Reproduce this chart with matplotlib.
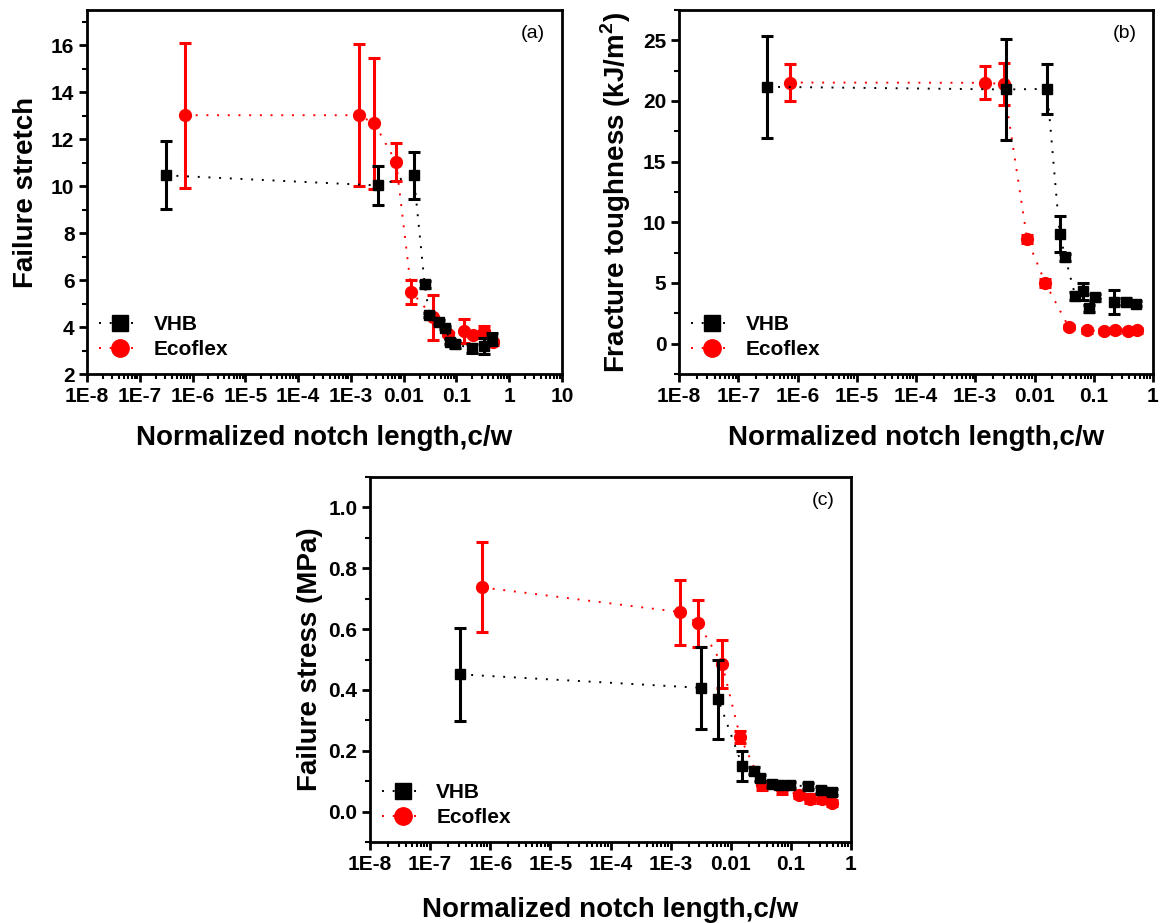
import numpy as np
import matplotlib
matplotlib.use("Agg")
import matplotlib.pyplot as plt
from matplotlib.lines import Line2D
from matplotlib.ticker import FixedLocator, LogLocator, MultipleLocator, NullFormatter, FormatStrFormatter

plt.rcParams['font.family'] = ['Liberation Sans', 'DejaVu Sans']
plt.rcParams['font.weight'] = 'bold'
plt.rcParams['mathtext.fontset'] = 'custom'
plt.rcParams['mathtext.rm'] = 'Liberation Sans:bold'
plt.rcParams['mathtext.bf'] = 'Liberation Sans:bold'

# (a) failure stretch
a_vhb_x = [3.1e-7, 3.2e-3, 0.0155, 0.025, 0.0306, 0.046, 0.062, 0.076, 0.095, 0.20, 0.327, 0.48]
a_vhb_y = [10.46, 10.03, 10.46, 5.82, 4.51, 4.22, 3.98, 3.37, 3.27, 3.09, 3.20, 3.49]
a_vhb_e = [1.45, 0.83, 1.0, 0.15, 0.08, 0.08, 0.08, 0.1, 0.15, 0.2, 0.35, 0.25]
a_eco_x = [7.2e-7, 1.4e-3, 2.8e-3, 7.2e-3, 0.014, 0.0365, 0.068, 0.14, 0.21, 0.34, 0.50]
a_eco_y = [13.02, 13.02, 12.67, 11.02, 5.51, 4.41, 3.70, 3.84, 3.67, 3.84, 3.35]
a_eco_e = [3.08, 3.03, 2.8, 0.8, 0.51, 0.95, 0.1, 0.5, 0.1, 0.2, 0.1]

# (b) fracture toughness
b_vhb_x = [3.1e-7, 3.3e-3, 0.0163, 0.0266, 0.033, 0.0489, 0.066, 0.082, 0.106, 0.217, 0.356, 0.525]
b_vhb_y = [21.17, 20.95, 21.0, 9.06, 7.12, 3.92, 4.33, 2.90, 3.83, 3.42, 3.45, 3.31]
b_vhb_e = [4.2, 4.2, 2.05, 1.5, 0.3, 0.3, 0.7, 0.3, 0.3, 1.0, 0.3, 0.2]
b_eco_x = [7.5e-7, 1.48e-3, 3.0e-3, 7.5e-3, 0.0152, 0.0378, 0.077, 0.151, 0.23, 0.374, 0.537]
b_eco_y = [21.52, 21.5, 21.39, 8.63, 5.01, 1.37, 1.10, 1.04, 1.10, 1.04, 1.12]
b_eco_e = [1.56, 1.35, 1.74, 0.3, 0.3, 0.2, 0.2, 0.2, 0.2, 0.2, 0.2]

# (c) failure stress
c_vhb_x = [3.2e-7, 3.14e-3, 6.2e-3, 0.0156, 0.0246, 0.031, 0.048, 0.064, 0.097, 0.195, 0.317, 0.484]
c_vhb_y = [0.451, 0.407, 0.369, 0.150, 0.135, 0.110, 0.091, 0.089, 0.087, 0.083, 0.070, 0.064]
c_vhb_e = [0.153, 0.134, 0.13, 0.05, 0.01, 0.01, 0.01, 0.01, 0.01, 0.01, 0.01, 0.01]
c_eco_x = [7.3e-7, 1.43e-3, 2.9e-3, 7.2e-3, 0.0143, 0.0337, 0.071, 0.138, 0.21, 0.33, 0.48]
c_eco_y = [0.737, 0.656, 0.619, 0.485, 0.246, 0.086, 0.074, 0.054, 0.043, 0.043, 0.029]
c_eco_e = [0.148, 0.107, 0.078, 0.078, 0.02, 0.015, 0.015, 0.01, 0.015, 0.015, 0.01]

xtick_vals = [1e-8, 1e-7, 1e-6, 1e-5, 1e-4, 1e-3, 1e-2, 1e-1, 1, 10]
xtick_labels = ["1E-8", "1E-7", "1E-6", "1E-5", "1E-4", "1E-3", "0.01", "0.1", "1", "10"]

fig = plt.figure(figsize=(11.61, 9.23), dpi=100)
W, H = 1161, 923

dots = (0, (1, 4.5))


def make_ax(l, r, t, b):
    return fig.add_axes([l / W, 1 - b / H, (r - l) / W, (b - t) / H])


def draw(ax, vx, vy, ve, ex, ey, ee, xmax, ylim, major, minor, ylabel, tag, yfmt):
    ax.errorbar(vx, vy, yerr=ve, color='black', ls=dots, lw=1.4,
                marker='s', ms=7.5, elinewidth=2.2, capsize=4.5, capthick=2.2, zorder=3)
    ax.errorbar(ex, ey, yerr=ee, color='red', ls=dots, lw=1.4,
                marker='o', ms=8.5, elinewidth=2.2, capsize=4.5, capthick=2.2, zorder=2)
    ax.set_xscale('log')
    ax.set_xlim(1e-8, xmax)
    ax.set_ylim(*ylim)
    n = xtick_vals.index(xmax) + 1
    ax.xaxis.set_major_locator(FixedLocator(xtick_vals[:n]))
    ax.set_xticklabels(xtick_labels[:n])
    ax.xaxis.set_minor_locator(LogLocator(base=10, subs=np.arange(2, 10), numticks=20))
    ax.xaxis.set_minor_formatter(NullFormatter())
    ax.yaxis.set_major_locator(MultipleLocator(major))
    ax.yaxis.set_minor_locator(MultipleLocator(minor))
    ax.yaxis.set_major_formatter(FormatStrFormatter(yfmt))
    ax.tick_params(which='major', direction='out', length=6, width=2, labelsize=15, pad=3)
    ax.tick_params(which='minor', direction='out', length=3.5, width=1.5)
    for lab in ax.get_xticklabels() + ax.get_yticklabels():
        lab.set_fontweight('bold')
    for s in ax.spines.values():
        s.set_linewidth(2)
    ax.set_xlabel("Normalized notch length,c/w", fontsize=20, fontweight='bold')
    ax.set_ylabel(ylabel, fontsize=20, fontweight='bold')
    ax.text(0.965, 0.96, tag, transform=ax.transAxes, ha='right', va='top',
            fontsize=14, fontweight='normal')
    handles = [Line2D([], [], color='black', ls=dots, lw=1.4, marker='s', ms=11),
               Line2D([], [], color='red', ls=dots, lw=1.4, marker='o', ms=12.5)]
    leg = ax.legend(handles, ['VHB', 'Ecoflex'], loc='lower left', bbox_to_anchor=(-0.005, 0.0),
                    frameon=False, fontsize=15, handlelength=2.0,
                    handletextpad=0.6, labelspacing=0.3, borderaxespad=0.3)
    for t in leg.get_texts():
        t.set_fontweight('bold')


ax_a = make_ax(87, 562, 10, 374)
draw(ax_a, a_vhb_x, a_vhb_y, a_vhb_e, a_eco_x, a_eco_y, a_eco_e, 10, (2, 17.5), 2, 1,
     "Failure stretch", "(a)", "%d")
ax_a.yaxis.set_label_coords(-0.102, 0.5)
ax_a.xaxis.set_label_coords(0.5, -0.14)

ax_b = make_ax(679, 1153, 10, 374)
draw(ax_b, b_vhb_x, b_vhb_y, b_vhb_e, b_eco_x, b_eco_y, b_eco_e, 1, (-2.5, 27.5), 5, 2.5,
     r"Fracture toughness (kJ/m$^\mathbf{2}$)", "(b)", "%d")
ax_b.yaxis.set_label_coords(-0.098, 0.5)
ax_b.xaxis.set_label_coords(0.5, -0.14)

ax_c = make_ax(370, 851, 477, 842)
draw(ax_c, c_vhb_x, c_vhb_y, c_vhb_e, c_eco_x, c_eco_y, c_eco_e, 1, (-0.1, 1.1), 0.2, 0.1,
     "Failure stress (MPa)", "(c)", "%.1f")
ax_c.yaxis.set_label_coords(-0.097, 0.5)
ax_c.xaxis.set_label_coords(0.5, -0.15)

fig.savefig("out.png", dpi=100)
